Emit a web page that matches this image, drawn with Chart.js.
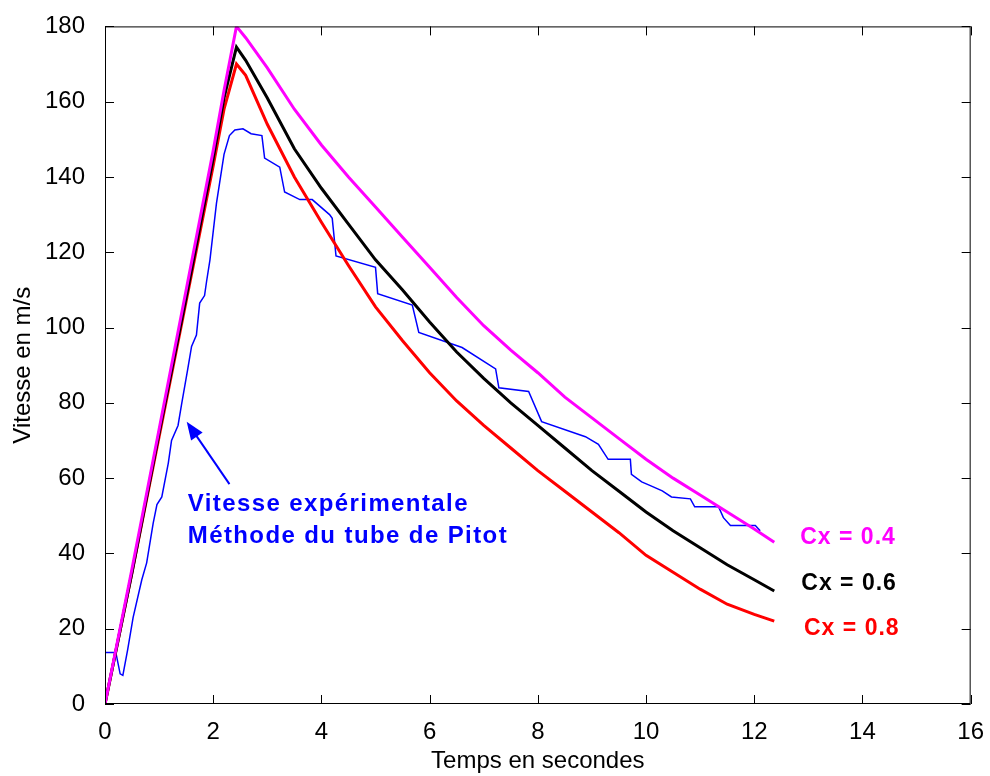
<!DOCTYPE html>
<html>
<head>
<meta charset="utf-8">
<script src="https://cdn.jsdelivr.net/npm/chart.js@4.4.1/dist/chart.umd.min.js"></script>
<style>
  body { margin: 0; background: #fff; }
  canvas { display: block; }
</style>
</head>
<body>
<canvas id="vitesse" width="990" height="776"></canvas>
<script>
// model curves share one time grid (s)
const timeModel = [0, 0.5, 1, 1.5, 2, 2.2, 2.43, 2.6, 3, 3.5, 4, 4.5, 5, 5.5, 6, 6.5, 7, 7.5, 8, 8.5, 9, 9.5, 10, 10.5, 11, 11.5, 12, 12.37];
const speedCx04 = [0, 36, 73, 110, 147, 163, 180, 177, 169, 158, 148.5, 140, 132, 124, 116, 108, 100.5, 94, 88, 81.5, 76, 70.5, 65, 60, 55.5, 51, 46.5, 43];
const speedCx06 = [0, 35, 72, 108, 145, 161, 174.5, 171, 161, 147.5, 137, 127.5, 118, 110, 101.5, 93.5, 86.5, 80, 74, 68, 62, 56.5, 51, 46, 41.5, 37, 33, 30];
const speedCx08 = [0, 35, 71, 107, 143, 158, 170, 167, 154, 140, 128, 116.5, 105.5, 96.5, 88, 80.5, 74, 68, 62, 56.5, 51, 45.5, 39.5, 35, 30.5, 26.5, 23.8, 22];

// measured (Pitot tube)
const timeExp = [0, 0.2, 0.28, 0.33, 0.42, 0.52, 0.68, 0.77, 0.89, 0.96, 1.05, 1.17, 1.23, 1.35, 1.42, 1.53, 1.6, 1.69, 1.75, 1.84, 1.88, 1.94, 2.06, 2.2, 2.3, 2.4, 2.55, 2.7, 2.9, 2.95, 3.23, 3.32, 3.6, 3.83, 4.15, 4.2, 4.27, 5.0, 5.04, 5.68, 5.8, 6.6, 7.22, 7.28, 7.83, 8.07, 8.88, 9.12, 9.3, 9.71, 9.73, 9.92, 10.08, 10.3, 10.47, 10.82, 10.9, 11.34, 11.43, 11.56, 12.02, 12.11];
const speedExp = [13.7, 13.7, 8, 7.6, 14.5, 23, 33, 37.5, 48, 53, 55, 64, 70, 74, 80, 89, 95, 98, 106.5, 108.5, 112.5, 118, 133, 146, 151, 152.5, 152.8, 151.5, 151, 145, 142.6, 136, 134, 134, 130, 129, 119, 116, 109, 106, 98.7, 94.7, 89, 84, 83, 75, 71, 69, 65, 65, 61, 59, 58, 56.6, 55, 54.5, 52.4, 52.4, 49.5, 47.4, 47.4, 46];

const xTicks = [0, 2, 4, 6, 8, 10, 12, 14, 16];
const yTicks = [0, 20, 40, 60, 80, 100, 120, 140, 160, 180];

function pairs(xs, ys) {
    return xs.map((x, i) => ({ x: x, y: ys[i] }));
}

const FONT = '"Liberation Sans", Arial, sans-serif';

// box with inward ticks + annotations (MATLAB look)
const framePlugin = {
    id: 'frame',
    afterDraw(chart) {
        const c = chart.ctx;
        const a = chart.chartArea;
        const xs = chart.scales.x;
        const ys = chart.scales.y;
        const tl = 9;
        c.save();
        c.strokeStyle = '#000';
        c.lineWidth = 1;
        c.strokeRect(a.left + 0.5, a.top + 0.5, a.right - a.left - 1, a.bottom - a.top - 1);
        c.beginPath();
        xTicks.forEach(v => {
            const px = Math.round(xs.getPixelForValue(v)) + 0.5;
            c.moveTo(px, a.bottom); c.lineTo(px, a.bottom - tl);
            c.moveTo(px, a.top); c.lineTo(px, a.top + tl);
        });
        yTicks.forEach(v => {
            const py = Math.round(ys.getPixelForValue(v)) + 0.5;
            c.moveTo(a.left, py); c.lineTo(a.left + tl, py);
            c.moveTo(a.right, py); c.lineTo(a.right - tl, py);
        });
        c.stroke();

        // arrow towards the measured curve
        const tipX = xs.getPixelForValue(1.51), tipY = ys.getPixelForValue(75);
        const tailX = xs.getPixelForValue(2.3), tailY = ys.getPixelForValue(58.4);
        const ang = Math.atan2(tipY - tailY, tipX - tailX);
        c.strokeStyle = '#0000FF';
        c.fillStyle = '#0000FF';
        c.lineWidth = 2;
        c.beginPath();
        c.moveTo(tailX, tailY);
        c.lineTo(tipX - 10 * Math.cos(ang), tipY - 10 * Math.sin(ang));
        c.stroke();
        c.beginPath();
        c.moveTo(tipX, tipY);
        c.lineTo(tipX - 18 * Math.cos(ang) + 7 * Math.sin(ang), tipY - 18 * Math.sin(ang) - 7 * Math.cos(ang));
        c.lineTo(tipX - 18 * Math.cos(ang) - 7 * Math.sin(ang), tipY - 18 * Math.sin(ang) + 7 * Math.cos(ang));
        c.closePath();
        c.fill();

        c.font = 'bold 24px ' + FONT;
        c.letterSpacing = '1.4px';
        c.textBaseline = 'middle';
        c.textAlign = 'left';
        c.fillText('Vitesse expérimentale', xs.getPixelForValue(1.53), ys.getPixelForValue(52.9));
        c.fillText('Méthode du tube de Pitot', xs.getPixelForValue(1.53), ys.getPixelForValue(44.5));

        c.font = 'bold 23px ' + FONT;
        c.letterSpacing = '1px';
        c.fillStyle = '#FF00FF';
        c.fillText('Cx = 0.4', xs.getPixelForValue(12.85), ys.getPixelForValue(44.2));
        c.fillStyle = '#000000';
        c.fillText('Cx = 0.6', xs.getPixelForValue(12.87), ys.getPixelForValue(32.1));
        c.fillStyle = '#FF0000';
        c.fillText('Cx = 0.8', xs.getPixelForValue(12.92), ys.getPixelForValue(20));
        c.restore();
    }
};

const ctx = document.getElementById('vitesse');

new Chart(ctx, {
    type: 'line',
    data: {
        datasets: [
            { label: 'Cx = 0.4', data: pairs(timeModel, speedCx04), borderColor: '#FF00FF', borderWidth: 3 },
            { label: 'Cx = 0.6', data: pairs(timeModel, speedCx06), borderColor: '#000000', borderWidth: 3 },
            { label: 'Cx = 0.8', data: pairs(timeModel, speedCx08), borderColor: '#FF0000', borderWidth: 3 },
            { label: 'Pitot', data: pairs(timeExp, speedExp), borderColor: '#0000FF', borderWidth: 1.5 }
        ]
    },
    options: {
        responsive: false,
        animation: false,
        devicePixelRatio: 1,
        elements: {
            point: { radius: 0 },
            line: { tension: 0, fill: false }
        },
        layout: {
            padding: { top: 20, right: 18, left: 0, bottom: 0 }
        },
        plugins: {
            legend: { display: false },
            tooltip: { enabled: false }
        },
        scales: {
            x: {
                type: 'linear',
                min: 0,
                max: 16,
                border: { display: false },
                grid: { display: false },
                afterBuildTicks: (scale) => { scale.ticks = xTicks.map(v => ({ value: v })); },
                afterFit: (scale) => { scale.height = 72; },
                ticks: {
                    color: '#000',
                    padding: 6,
                    maxRotation: 0,
                    font: { family: FONT, size: 24 }
                },
                title: {
                    display: true,
                    text: 'Temps en secondes',
                    color: '#000',
                    padding: { top: 0, bottom: 0 },
                    font: { family: FONT, size: 24 }
                }
            },
            y: {
                type: 'linear',
                min: 0,
                max: 180,
                border: { display: false },
                grid: { display: false },
                afterBuildTicks: (scale) => { scale.ticks = yTicks.map(v => ({ value: v })); },
                afterFit: (scale) => { scale.width = 105; },
                ticks: {
                    color: '#000',
                    padding: 12,
                    font: { family: FONT, size: 24 }
                },
                title: {
                    display: true,
                    text: 'Vitesse en m/s',
                    color: '#000',
                    padding: { top: 9, bottom: 0 },
                    font: { family: FONT, size: 24 }
                }
            }
        }
    },
    plugins: [framePlugin]
});
</script>
</body>
</html>
